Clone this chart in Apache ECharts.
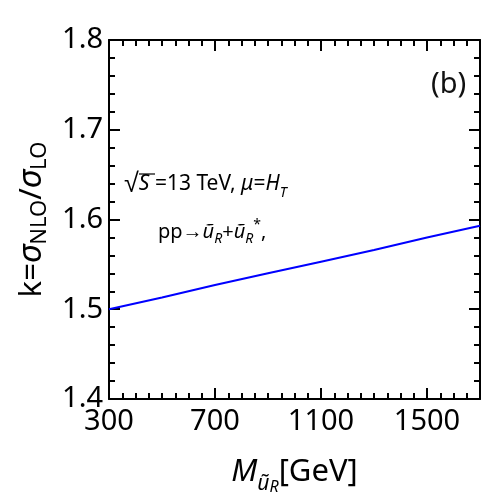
<!DOCTYPE html>
<html lang="en">

<head>
  <meta charset="UTF-8">
  <title>k factor</title>
  <script src="https://cdn.jsdelivr.net/npm/echarts@6/dist/echarts.min.js"></script>
  <style>
    html, body { margin: 0; padding: 0; background: #fff; }
    #main { width: 500px; height: 500px; }
  </style>
</head>

<body>
  <div id="main"></div>
  <script>
    // data
    const massValues = [300, 500, 700, 900, 1100, 1300, 1500, 1700]
    const kValues = [1.500, 1.513, 1.527, 1.540, 1.553, 1.566, 1.580, 1.593]
    const xLabelValues = [300, 700, 1100, 1500]

    const FONT = '"Noto Sans", sans-serif'
    const black = '#000'

    let myChart = echarts.init(document.querySelector('#main'))

    // x axis: one with long ticks + labels, one with short ticks every 50
    function xAxisCfg(pos, major) {
      return {
        type: 'value', position: pos, min: 300, max: 1700,
        interval: major ? 400 : 50,
        axisLine: { show: major, lineStyle: { color: black, width: 2 } },
        axisTick: { show: true, inside: true, length: major ? 11 : 6, lineStyle: { color: black, width: 2 } },
        axisLabel: {
          show: major && pos === 'bottom', margin: 8, color: black, fontSize: 29, fontFamily: FONT,
          formatter: v => xLabelValues.includes(v) ? String(v) : ''
        },
        splitLine: { show: false }
      }
    }

    function yAxisCfg(pos) {
      return {
        type: 'value', position: pos, min: 1.4, max: 1.8, interval: 0.1,
        axisLine: { show: true, lineStyle: { color: black, width: 2 } },
        axisTick: { show: true, inside: true, length: 11, lineStyle: { color: black, width: 2 } },
        minorTick: { show: true, splitNumber: 5, length: 6, lineStyle: { color: black, width: 2 } },
        axisLabel: {
          show: pos === 'left', margin: 6, color: black, fontSize: 29, fontFamily: FONT,
          formatter: v => v.toFixed(1)
        },
        splitLine: { show: false }
      }
    }

    let yLeft = yAxisCfg('left')
    yLeft.name = '{n|k=}{s|σ}{sub|NLO}{n|/}{s|σ}{sub|LO}'
    yLeft.nameLocation = 'middle'
    yLeft.nameRotate = 90
    yLeft.nameGap = 58
    yLeft.nameTextStyle = {
      color: black, fontFamily: FONT, fontSize: 31,
      rich: {
        n: { fontSize: 31, fontFamily: FONT, color: black, lineHeight: 38 },
        s: { fontSize: 33, fontFamily: FONT, color: black, fontStyle: 'italic', lineHeight: 38 },
        sub: { fontSize: 22, fontFamily: FONT, color: black, verticalAlign: 'bottom', lineHeight: 38 }
      }
    }

    let xBottom = xAxisCfg('bottom', true)
    xBottom.name = '{i|M}{si|ũ}{ssi|R}{n|[GeV]}'
    xBottom.nameLocation = 'middle'
    xBottom.nameGap = 50
    xBottom.nameTextStyle = {
      color: black, fontFamily: FONT, fontSize: 31,
      rich: {
        i: { fontSize: 31, fontFamily: FONT, color: black, fontStyle: 'italic', lineHeight: 40 },
        n: { fontSize: 31, fontFamily: FONT, color: black, lineHeight: 40 },
        si: { fontSize: 21, fontFamily: FONT, color: black, fontStyle: 'italic', verticalAlign: 'bottom', lineHeight: 40 },
        ssi: { fontSize: 16, fontFamily: FONT, color: black, fontStyle: 'italic', verticalAlign: 'bottom', lineHeight: 46 }
      }
    }

    let option = {
      animation: false,
      backgroundColor: '#fff',
      grid: { left: 109, right: 20, top: 40, bottom: 88 },
      xAxis: [xBottom, xAxisCfg('bottom', false), xAxisCfg('top', true), xAxisCfg('top', false)],
      yAxis: [yLeft, yAxisCfg('right')],
      series: [
        {
          type: 'line',
          data: massValues.map((m, i) => [m, kValues[i]]),
          showSymbol: false,
          lineStyle: { color: '#0000ff', width: 2 },
          z: 1
        }
      ],
      graphic: [
        {
          type: 'text', left: 431, top: 70,
          style: { text: '(b)', fontSize: 29, fontFamily: FONT, fill: '#111' }
        },
        {
          type: 'text', left: 124, top: 171,
          style: {
            text: '{r|√}{i|S}{n| =13 TeV, }{i|μ}{n|=}{i|H}{sub|T}',
            rich: {
              r: { fontSize: 27, fontFamily: FONT, fill: black, lineHeight: 32 },
              n: { fontSize: 21, fontFamily: FONT, fill: black, lineHeight: 32 },
              i: { fontSize: 21, fontFamily: FONT, fill: black, fontStyle: 'italic', lineHeight: 32 },
              sub: { fontSize: 14, fontFamily: FONT, fill: black, fontStyle: 'italic', verticalAlign: 'bottom', lineHeight: 30 }
            }
          }
        },
        {
          type: 'line', shape: { x1: 139, y1: 174, x2: 155, y2: 174 },
          style: { stroke: black, lineWidth: 1.2 }
        },
        {
          type: 'text', left: 158, top: 218,
          style: {
            text: '{n|pp→}{i|ũ}{sub|R}{n|+}{i|ũ}{sub|R}{sup|*}{n|,}',
            rich: {
              n: { fontSize: 20, fontFamily: FONT, fill: black, lineHeight: 28 },
              i: { fontSize: 20, fontFamily: FONT, fill: black, fontStyle: 'italic', lineHeight: 28 },
              sub: { fontSize: 14, fontFamily: FONT, fill: black, fontStyle: 'italic', verticalAlign: 'bottom', lineHeight: 26 },
              sup: { fontSize: 14, fontFamily: FONT, fill: black, verticalAlign: 'top', lineHeight: 28 }
            }
          }
        }
      ]
    };

    myChart.setOption(option);
  </script>
</body>

</html>
